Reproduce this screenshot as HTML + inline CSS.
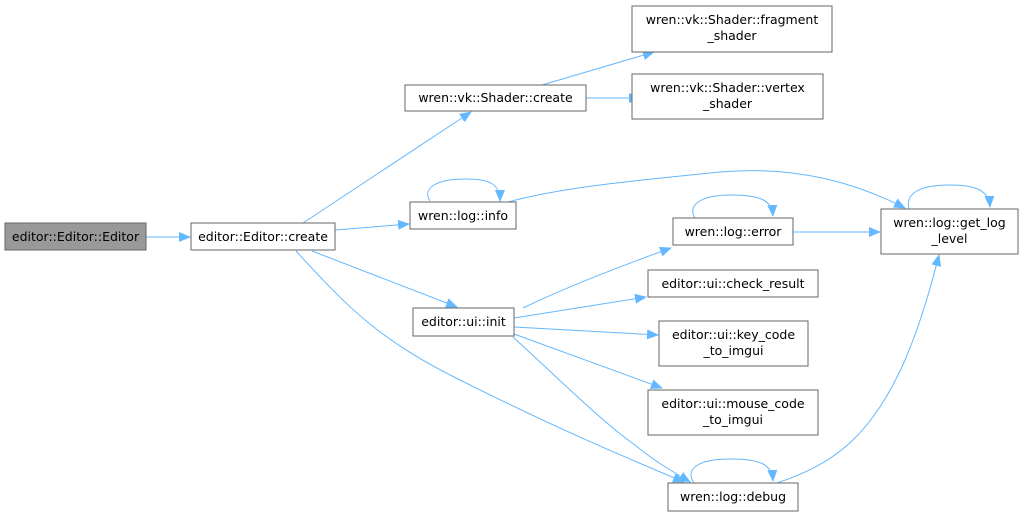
<!DOCTYPE html>
<html><head><style>
html,body{margin:0;padding:0;background:#fff;width:1023px;height:516px;overflow:hidden}
text{font-family:"DejaVu Sans","Liberation Sans",sans-serif;font-size:12.5px;fill:#000}
.b{fill:#fff;stroke:#666;stroke-width:1}
.e{fill:none;stroke:#63b8ff;stroke-width:1}
</style></head><body>
<svg width="1023" height="516" viewBox="0 0 1023 516" xmlns="http://www.w3.org/2000/svg">
<defs><marker id="m" markerWidth="12" markerHeight="10" refX="11" refY="5" orient="auto" markerUnits="userSpaceOnUse"><path d="M0,0 L12,5 L0,10 z" fill="#63b8ff"/></marker></defs>
<path class="e" marker-end="url(#m)" d="M146,237 L190,237"/>
<path class="e" marker-end="url(#m)" d="M303,223 L471,112"/>
<path class="e" marker-end="url(#m)" d="M335,230 L409,224"/>
<path class="e" marker-end="url(#m)" d="M312,251 L457,307"/>
<path class="e" marker-end="url(#m)" d="M296,251 C350,310 380,340 460,380 C560,430 620,455 684,482"/>
<path class="e" marker-end="url(#m)" d="M542,85 L654,52"/>
<path class="e" marker-end="url(#m)" d="M586,98 L640,98"/>
<path class="e" marker-end="url(#m)" d="M430,201 C422,189 435,179 465,179 C490,179 500,184 500,201"/>
<path class="e" marker-end="url(#m)" d="M508,202 C560,188 620,182 720,172 C800,165 860,185 905,208"/>
<path class="e" marker-end="url(#m)" d="M523,308 C560,290 610,270 671,248"/>
<path class="e" marker-end="url(#m)" d="M514,318 L646,297"/>
<path class="e" marker-end="url(#m)" d="M514,327 L658,335"/>
<path class="e" marker-end="url(#m)" d="M514,334 L662,388"/>
<path class="e" marker-end="url(#m)" d="M513,337 C560,380 600,420 635,445 C650,458 670,470 690,482"/>
<path class="e" marker-end="url(#m)" d="M695,218 C687,206 700,195 730,195 C760,195 772,200 773,216"/>
<path class="e" marker-end="url(#m)" d="M793,232 L880,232"/>
<path class="e" marker-end="url(#m)" d="M909,209 C905,193 920,185 950,185 C975,185 989,190 990,207"/>
<path class="e" marker-end="url(#m)" d="M777,483 C830,465 870,440 905,360 C920,325 930,290 939,255"/>
<path class="e" marker-end="url(#m)" d="M694,483 C684,468 700,459 730,459 C760,459 772,464 773,481"/>
<rect x="5" y="223" width="141" height="27" fill="#999" stroke="#666"/>
<text x="75.5" y="241" text-anchor="middle">editor::Editor::Editor</text>
<rect class="b" x="191" y="223" width="144" height="27"/>
<text x="263" y="241" text-anchor="middle">editor::Editor::create</text>
<rect class="b" x="405" y="85" width="181" height="26"/>
<text x="495.5" y="102" text-anchor="middle">wren::vk::Shader::create</text>
<rect class="b" x="632" y="6" width="200" height="46"/>
<text x="732" y="24" text-anchor="middle">wren::vk::Shader::fragment</text>
<text x="732" y="40" text-anchor="middle">_shader</text>
<rect class="b" x="632" y="74" width="191" height="45"/>
<text x="727.5" y="92" text-anchor="middle">wren::vk::Shader::vertex</text>
<text x="727.5" y="108" text-anchor="middle">_shader</text>
<rect class="b" x="410" y="202" width="106" height="27"/>
<text x="463" y="220" text-anchor="middle">wren::log::info</text>
<rect class="b" x="413" y="308" width="101" height="28"/>
<text x="463.5" y="326" text-anchor="middle">editor::ui::init</text>
<rect class="b" x="673" y="218" width="120" height="27"/>
<text x="733" y="236" text-anchor="middle">wren::log::error</text>
<rect class="b" x="881" y="209" width="137" height="45"/>
<text x="949.5" y="227" text-anchor="middle">wren::log::get_log</text>
<text x="949.5" y="243" text-anchor="middle">_level</text>
<rect class="b" x="648" y="270" width="170" height="27"/>
<text x="733" y="288" text-anchor="middle">editor::ui::check_result</text>
<rect class="b" x="659" y="321" width="149" height="45"/>
<text x="733.5" y="339" text-anchor="middle">editor::ui::key_code</text>
<text x="733.5" y="355" text-anchor="middle">_to_imgui</text>
<rect class="b" x="648" y="390" width="170" height="45"/>
<text x="733" y="408" text-anchor="middle">editor::ui::mouse_code</text>
<text x="733" y="424" text-anchor="middle">_to_imgui</text>
<rect class="b" x="668" y="483" width="130" height="28"/>
<text x="733" y="501" text-anchor="middle">wren::log::debug</text>
</svg>
</body></html>
